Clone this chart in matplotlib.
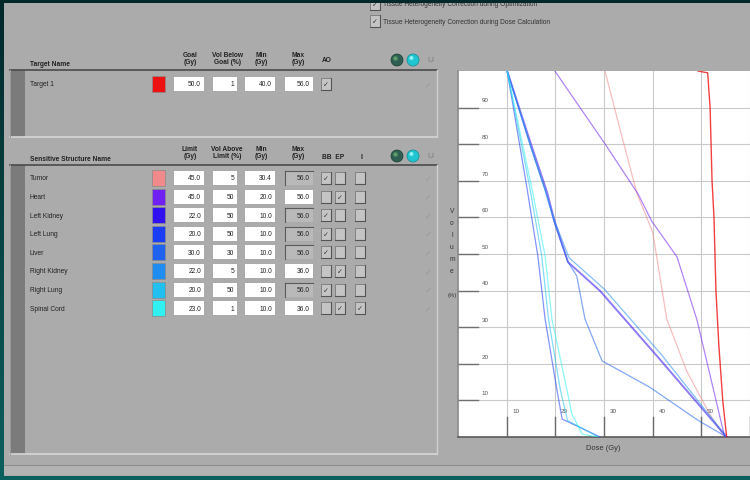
import matplotlib
matplotlib.use('Agg')
import matplotlib.pyplot as plt
import numpy as np
from matplotlib.patches import Rectangle, Circle

plt.rcParams['font.family'] = ['Liberation Sans', 'DejaVu Sans']

# target table
target_names = ['Target 1']
target_colors = ['#ee1111']
target_goal = ['50.0']
target_vol_below = ['1']
target_min = ['40.0']
target_max = ['56.0']

# sensitive structures table
structure_names = ['Tumor', 'Heart', 'Left Kidney', 'Left Lung', 'Liver',
                   'Right Kidney', 'Right Lung', 'Spinal Cord']
structure_colors = ['#f08a8a', '#7020f0', '#3010f0', '#1a3cf5', '#2062f0',
                    '#1e8cf0', '#22c0f0', '#30f0f0']
structure_limit = ['45.0', '45.0', '22.0', '20.0', '30.0', '22.0', '20.0', '23.0']
structure_vol_above = ['5', '50', '50', '50', '30', '5', '50', '1']
structure_min = ['30.4', '20.0', '10.0', '10.0', '10.0', '10.0', '10.0', '10.0']
structure_max = ['56.0', '56.0', '56.0', '56.0', '56.0', '36.0', '56.0', '36.0']
max_enabled = [False, True, False, False, False, True, False, True]
bb_checked = [1, 0, 1, 1, 1, 0, 1, 0]
ep_checked = [0, 1, 0, 0, 0, 1, 0, 1]
i_checked = [0, 0, 0, 0, 0, 0, 0, 1]

# DVH curves (dose Gy, volume %)
target_dose = [49.3, 51.3, 51.8, 52.2, 52.6, 53.0, 53.6, 54.4, 55.2]
target_vol = [100, 99.5, 90, 70, 60, 40, 25, 10, 0]
dvh_dose = {
    'Tumor': [30.2, 33.5, 36.8, 40.0, 42.9, 47.0, 51.7, 54.8],
    'Heart': [19.9, 30.2, 37.0, 39.8, 45.0, 49.1, 54.8],
    'Left Kidney': [10.1, 15.2, 18.3, 19.9, 22.6, 29.2, 40.9, 55.2],
    'Left Lung': [10.1, 14.2, 16.4, 17.9, 20.3, 21.4, 29.2],
    'Liver': [10.1, 15.0, 18.0, 19.8, 22.6, 24.4, 26.1, 29.6, 39.4, 49.5, 55.2],
    'Right Kidney': [10.1, 14.9, 17.9, 19.7, 22.8, 30.0, 41.8, 55.2],
    'Right Lung': [10.1, 14.8, 17.2, 18.6, 21.0, 22.5, 28.9],
    'Spinal Cord': [10.1, 15.2, 17.9, 19.3, 22.0, 23.4, 25.5, 28.7],
}
dvh_vol = {
    'Tumor': [100, 83, 66.4, 56, 32.2, 18, 6.3, 0],
    'Heart': [100, 80.1, 66.4, 59.0, 49.2, 32.0, 0],
    'Left Kidney': [100, 79.2, 66.9, 58.7, 47.8, 39.9, 22.1, 0],
    'Left Lung': [100, 67.8, 49.5, 32.2, 13.1, 4.9, 0],
    'Liver': [100, 79.0, 67.0, 58.5, 47.8, 44.0, 32.2, 20.8, 13.6, 4.4, 0],
    'Right Kidney': [100, 79.5, 67.5, 59.5, 49.0, 40.5, 22.5, 0],
    'Right Lung': [100, 67.8, 49.5, 32.2, 13.1, 4.5, 0],
    'Spinal Cord': [100, 67.8, 49.5, 32.2, 15.3, 6.3, 0.8, 0],
}
vol_ticks = [10, 20, 30, 40, 50, 60, 70, 80, 90]
dose_ticks = [10, 20, 30, 40, 50]

W, H = 750, 481
FS = 4.8
fig = plt.figure(figsize=(7.5, 4.81), dpi=100)
bg = fig.add_axes([0, 0, 1, 1])
bg.set_xlim(0, W)
bg.set_ylim(H, 0)
bg.axis('off')

# teal frame and gray window
top_c = np.array([3, 40, 42]) / 255
bot_c = np.array([12, 96, 94]) / 255
t = np.linspace(0, 1, 200)[:, None, None]
grad = top_c * (1 - t) + bot_c * t
bg.imshow(grad, extent=[0, W, H, 0], aspect='auto', zorder=0)
bg.add_patch(Rectangle((4, 4), W - 4, 473, fc='#ababab', ec='none', zorder=1))
bg.add_patch(Rectangle((4, 466), W - 4, 10, fc='#b3b3b3', ec='none', zorder=1))
bg.plot([4, W], [466, 466], color='#8f8f8f', lw=0.8, zorder=2)


def group_box(y0, y1):
    bg.add_patch(Rectangle((10, y0), 427, y1 - y0, fc='#ababab', ec='none', zorder=2))
    bg.add_patch(Rectangle((10, y0), 15, y1 - y0, fc='#7b7b7b', ec='none', zorder=3))
    bg.plot([10, 437], [y0, y0], color='#4a4a4a', lw=1.2, zorder=4)
    bg.plot([10, 437], [y1, y1], color='#d6d6d6', lw=1.2, zorder=4)
    bg.plot([437, 437], [y0, y1], color='#d0d0d0', lw=1.0, zorder=4)
    bg.plot([10, 10], [y0, y1], color='#9a9a9a', lw=0.8, zorder=4)


def field(x0, x1, yc, txt, enabled=True):
    fc = '#ffffff' if enabled else '#b9b9b9'
    bg.add_patch(Rectangle((x0, yc - 7), x1 - x0, 14, fc=fc, ec='none', zorder=5))
    if not enabled:
        bg.plot([x0, x1], [yc - 7, yc - 7], color='#5a5a5a', lw=0.8, zorder=6)
        bg.plot([x0, x0], [yc - 7, yc + 7], color='#5a5a5a', lw=0.8, zorder=6)
    bg.text(x1 - 3, yc, txt, ha='right', va='center', fontsize=FS, color='#222', zorder=7)


def checkbox(xc, yc, checked):
    bg.add_patch(Rectangle((xc - 5, yc - 6), 10, 12, fc='#c4c4c4', ec='#6d6d6d', lw=0.5, zorder=5))
    bg.plot([xc - 5, xc + 5, xc + 5], [yc + 6, yc + 6, yc - 6], color='#555', lw=0.8, zorder=6)
    if checked:
        bg.text(xc, yc, '\u2713', ha='center', va='center', fontsize=5,
                family=['DejaVu Sans'], color='#333', zorder=7)


def icons(yc):
    bg.add_patch(Circle((397, yc), 6, fc='#2f5f52', ec='#1c3a33', lw=0.5, zorder=5))
    bg.add_patch(Circle((395.5, yc - 1.5), 2.2, fc='#5c9a6a', ec='none', zorder=6))
    bg.add_patch(Circle((413, yc), 6, fc='#1fc6d2', ec='#118890', lw=0.5, zorder=5))
    bg.add_patch(Circle((411.5, yc - 2), 2, fc='#8ff0f5', ec='none', zorder=6))
    bg.text(430, yc, 'U', ha='center', va='center', fontsize=6, color='#7a7a7a', zorder=6)


# top-right checkboxes
for yc, label in [(5, 'Tissue Heterogeneity Correction during Optimization'),
                  (22, 'Tissue Heterogeneity Correction during Dose Calculation')]:
    checkbox(375, yc, True)
    bg.text(383, yc, label, ha='left', va='center', fontsize=FS, color='#333', zorder=7)
bg.add_patch(Rectangle((0, 0), W, 4, fc='#03282a', ec='none', zorder=8))

# target group
group_box(71, 138)
bg.text(30, 65, 'Target Name', ha='left', va='center', fontsize=FS, weight='bold', color='#222', zorder=6)
hdr = [(190, 'Goal\n(Gy)'), (227, 'Vol Below\nGoal (%)'), (261, 'Min\n(Gy)'), (298, 'Max\n(Gy)')]
for x, s in hdr:
    bg.text(x, 59, s, ha='center', va='center', fontsize=FS, weight='bold', color='#222',
            linespacing=1.1, zorder=6)
bg.text(327, 60, 'AO', ha='center', va='center', fontsize=FS, weight='bold', color='#222', zorder=6)
icons(61)
for i, name in enumerate(target_names):
    yc = 85 + i * 18.6
    bg.text(30, yc, name, ha='left', va='center', fontsize=FS, color='#222', zorder=6)
    bg.add_patch(Rectangle((152, yc - 8), 13, 16, fc=target_colors[i], ec='#8a8a8a', lw=0.5, zorder=5))
    field(174, 204, yc, target_goal[i])
    field(213, 237, yc, target_vol_below[i])
    field(245, 275, yc, target_min[i])
    field(285, 313, yc, target_max[i])
    checkbox(326, yc, True)
    bg.text(428, yc, '\u2713', ha='center', va='center', fontsize=6, family=['DejaVu Sans'],
            color='#9a9a9a', zorder=6)

# sensitive structure group
group_box(166, 455)
bg.text(30, 160, 'Sensitive Structure Name', ha='left', va='center', fontsize=FS, weight='bold',
        color='#222', zorder=6)
hdr = [(190, 'Limit\n(Gy)'), (227, 'Vol Above\nLimit (%)'), (261, 'Min\n(Gy)'), (298, 'Max\n(Gy)')]
for x, s in hdr:
    bg.text(x, 153, s, ha='center', va='center', fontsize=FS, weight='bold', color='#222',
            linespacing=1.1, zorder=6)
bg.text(333, 158, 'BB  EP', ha='center', va='center', fontsize=FS, weight='bold', color='#222', zorder=6)
bg.text(361, 158, 'I', ha='center', va='center', fontsize=FS, weight='bold', color='#222', zorder=6)
icons(157)
for i, name in enumerate(structure_names):
    yc = 179 + i * 18.6
    bg.text(30, yc, name, ha='left', va='center', fontsize=FS, color='#222', zorder=6)
    bg.add_patch(Rectangle((152, yc - 8), 13, 16, fc=structure_colors[i], ec='#8a8a8a', lw=0.5, zorder=5))
    field(174, 204, yc, structure_limit[i])
    field(213, 237, yc, structure_vol_above[i])
    field(245, 275, yc, structure_min[i])
    field(285, 313, yc, structure_max[i], max_enabled[i])
    checkbox(326, yc, bb_checked[i])
    checkbox(340, yc, ep_checked[i])
    checkbox(360, yc, i_checked[i])
    bg.text(428, yc, '\u2713', ha='center', va='center', fontsize=6, family=['DejaVu Sans'],
            color='#9a9a9a', zorder=6)

# y axis label, stacked letters
for k, ch in enumerate('Volume'):
    bg.text(452, 212 + k * 12, ch, ha='center', va='center', fontsize=FS, color='#333', zorder=6)
bg.text(452, 296, '(%)', ha='center', va='center', fontsize=FS - 0.6, color='#333', zorder=6)
bg.text(603, 449, 'Dose (Gy)', ha='center', va='center', fontsize=FS + 0.6, color='#333', zorder=6)

# DVH chart
ax = fig.add_axes([458 / W, (H - 438) / H, 292 / W, 366 / H])
ax.set_facecolor('white')
ax.set_xlim(0, 60)
ax.set_ylim(0, 100)
ax.set_xticks([])
ax.set_yticks([])
for v in vol_ticks:
    ax.axhline(v, color='#c9c9c9', lw=0.8, zorder=1)
    ax.plot([0, 4.2], [v, v], color='#707070', lw=1.0, zorder=2)
    ax.text(5.6, v + 2.1, str(v), ha='center', va='center', fontsize=FS - 0.3, color='#555')
for v in dose_ticks + [60]:
    ax.axvline(v, color='#c9c9c9', lw=0.8, zorder=1)
    ax.plot([v, v], [0, 5.5], color='#6a6a6a', lw=1.0, zorder=2)
for v in dose_ticks:
    ax.text(v + 1.9, 7.2, str(v), ha='center', va='center', fontsize=FS - 0.3, color='#555')

for name, col in zip(structure_names, structure_colors):
    lw = 1.4 if name == 'Left Kidney' else 0.9
    ax.plot(dvh_dose[name], dvh_vol[name], color=col, lw=lw, alpha=0.55, zorder=3)
ax.plot(target_dose, target_vol, color=target_colors[0], lw=1.0, alpha=0.8, zorder=4)

for s in ['top', 'right']:
    ax.spines[s].set_visible(False)
ax.spines['left'].set_color('#8a8a8a')
ax.spines['left'].set_linewidth(1.2)
ax.spines['bottom'].set_color('#5a5a5a')
ax.spines['bottom'].set_linewidth(1.2)

fig.savefig('out.png', dpi=100)
